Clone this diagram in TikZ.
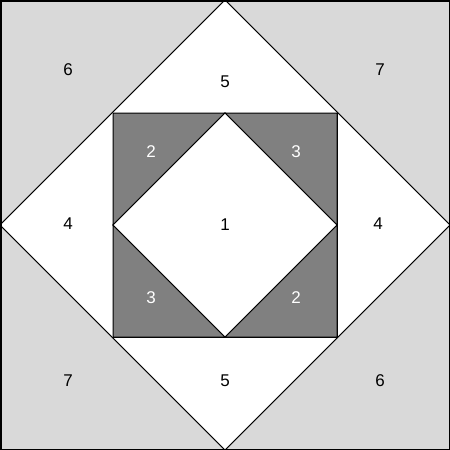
\documentclass[tikz,border=0pt]{standalone}
\usepackage{fontspec}
\setmainfont{Liberation Sans}
\definecolor{lightcorner}{HTML}{D9D9D9}
\definecolor{darkpatch}{HTML}{808080}
\begin{document}
\begin{tikzpicture}[x=1pt,y=-1pt,
  edge/.style={draw=black,line width=1pt,line join=miter},
  lite/.style={fill=lightcorner,edge},
  dark/.style={fill=darkpatch,edge},
  plain/.style={fill=white,edge},
  lbl/.style={font=\fontsize{17}{19}\selectfont,text=black,inner sep=0pt},
  wlbl/.style={lbl,text=white}]
\useasboundingbox (0,0) rectangle (450,450);
% corner triangles
\path[lite] (0,0) -- (225,0) -- (0,225) -- cycle;
\path[lite] (450,0) -- (225,0) -- (450,225) -- cycle;
\path[lite] (0,450) -- (225,450) -- (0,225) -- cycle;
\path[lite] (450,450) -- (225,450) -- (450,225) -- cycle;
% big diamond
\path[plain] (225,0) -- (450,225) -- (225,450) -- (0,225) -- cycle;
% inner square
\path[plain] (113,113) rectangle (337,337);
% dark triangles
\path[dark] (113,113) -- (225,113) -- (113,225) -- cycle;
\path[dark] (337,113) -- (225,113) -- (337,225) -- cycle;
\path[dark] (113,337) -- (225,337) -- (113,225) -- cycle;
\path[dark] (337,337) -- (225,337) -- (337,225) -- cycle;
% inner diamond
\path[plain] (225,113) -- (337,225) -- (225,337) -- (113,225) -- cycle;
% outer frame
\draw[line width=1.5pt] (0.75,0.75) rectangle (449.25,449.25);
% labels
\node[lbl] (l6a) at (68,70) {6};
\node[lbl] (l5a) at (225,82) {5};
\node[lbl] (l7a) at (380,70) {7};
\node[wlbl] (l2a) at (151,152) {2};
\node[wlbl] (l3a) at (296,152) {3};
\node[lbl] (l4a) at (68,224) {4};
\node[lbl] (l1) at (225,225) {1};
\node[lbl] (l4b) at (378,224) {4};
\node[wlbl] (l3b) at (151,298) {3};
\node[wlbl] (l2b) at (296,298) {2};
\node[lbl] (l7b) at (68,381) {7};
\node[lbl] (l5b) at (225,381) {5};
\node[lbl] (l6b) at (380,381) {6};
\end{tikzpicture}
\end{document}
